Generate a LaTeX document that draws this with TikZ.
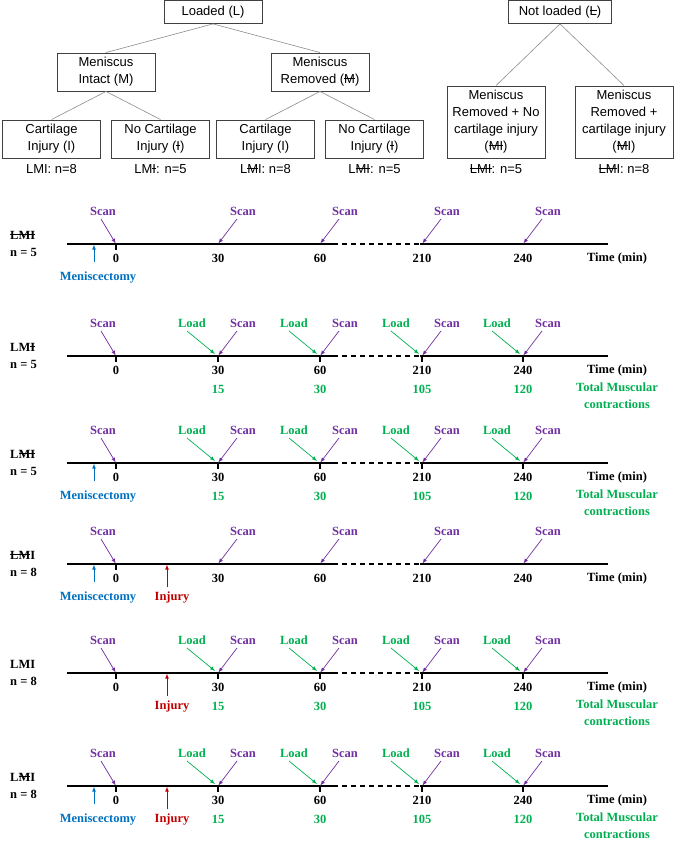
\documentclass[tikz,border=0pt]{standalone}
\usepackage{fontspec}
\setmainfont{Liberation Sans}
\newfontfamily\tnr{Liberation Serif}
\usetikzlibrary{shapes,arrows,positioning}

\definecolor{scanpurple}{RGB}{112,48,160}
\definecolor{loadgreen}{RGB}{0,176,80}
\definecolor{menblue}{RGB}{0,112,192}
\definecolor{injred}{RGB}{192,0,0}

\newcommand{\strk}[1]{{\setbox0=\hbox{#1}\rlap{\rule[0.34em]{\wd0}{0.075em}}\box0}}
\newcommand{\tlfont}{\tnr\bfseries\fontsize{12.5}{16.5}\selectfont}

\tikzset{
  box/.style={draw=black!75, line width=0.8pt, minimum width=98pt, minimum height=23pt,
    inner xsep=2pt, inner ysep=4.5pt, align=center, font=\fontsize{13}{17}\selectfont},
  cnt/.style={inner sep=2pt, font=\fontsize{13}{17}\selectfont},
  tl/.style={inner sep=0pt, text height=9pt, text depth=3pt, font=\tlfont},
  tnum/.style={tl},
  gnum/.style={tl, text=loadgreen},
  scanlbl/.style={tl, text=scanpurple},
  loadlbl/.style={tl, text=loadgreen},
  menlbl/.style={tl, text=menblue},
  injlbl/.style={tl, text=injred},
  total/.style={inner sep=0pt, align=center, font=\tlfont, text=loadgreen},
  grp/.style={inner sep=0pt, anchor=west, align=left, font=\tnr\bfseries\fontsize{12.5}{17}\selectfont},
  tline/.style={line width=1.2pt, black},
  tmark/.style={line width=1.6pt, black},
  scanarr/.style={draw=scanpurple, line width=0.7pt, -latex, shorten >=0.6pt},
  loadarr/.style={draw=loadgreen, line width=0.7pt, -latex},
  menarr/.style={draw=menblue, line width=0.7pt, -latex, shorten >=0.6pt},
  injarr/.style={draw=injred, line width=0.7pt, -latex, shorten >=0.6pt}
}

\begin{document}
\begin{tikzpicture}[x=1pt, y=-1pt,
      level 1/.style={sibling distance=214pt, level distance=60pt},
      level 2/.style={sibling distance=109pt, level distance=67pt},
      edge from parent/.style={draw=black!45, line width=0.6pt},
      edge from parent path={(\tikzparentnode.south) -- (\tikzchildnode.north)}
    ]
    \useasboundingbox (0,0) rectangle (675,845);

    % groups
    \node[box] (ld) at (213,12) {Loaded (L)}
        child {
          node[box] (mi) {Meniscus\\Intact (M)}
          child {
            node[box] (mici) {Cartilage\\Injury (I)}
          }
          child {
            node[box] (minc) {No Cartilage\\Injury (\strk{I})}
          }
        }
        child {
          node[box] (mr) {Meniscus\\Removed (\strk{M})}
          child {
            node[box] (mrci) {Cartilage\\Injury (I)}
          }
          child {
            node[box] (mrnc) {No Cartilage\\Injury (\strk{I})}
          }
        }
      ;
    \begin{scope}[level 1/.style={sibling distance=128pt, level distance=110pt}]
    \node[box, minimum width=103pt] (nl) at (560,12) {Not loaded (\strk{L})}
        child {
          node[box] (nlnc) {Meniscus\\Removed + No\\cartilage injury\\(\strk{MI})}
        }
        child {
          node[box] (nlci) {Meniscus\\Removed +\\cartilage injury\\(\strk{M}I)}
        }
      ;
    \end{scope}
    \node[cnt, below=4pt of mici] (mici-n) {LMI: n=8};
    \node[cnt, below=4pt of minc] (minc-n) {LM\strk{I}: n=5};
    \node[cnt, below=4pt of mrci] (mrci-n) {L\strk{M}I: n=8};
    \node[cnt, below=4pt of mrnc] (mrnc-n) {L\strk{MI}: n=5};
    \node[cnt, below=4pt of nlnc] (nlnc-n) {\strk{LMI}: n=5};
    \node[cnt, below=4pt of nlci] (nlci-n) {\strk{LM}I: n=8};

    % row 1: not loaded, meniscus removed, no injury
    \foreach \tm/\x in {0/116,30/218,60/320,210/422,240/523}
      \coordinate (r1t\tm) at (\x,244);
    \node[grp] (r1g) at (10,244) {\strk{LMI}\\n = 5};
    \draw[tline] ([xshift=-49pt]r1t0) -- ([xshift=13pt]r1t60);
    \draw[tline, dash pattern=on 5pt off 4pt] ([xshift=13pt]r1t60) -- ([xshift=-2pt]r1t210);
    \draw[tline] ([xshift=-2pt]r1t210) -- ([xshift=85pt]r1t240);
    \draw[tmark] ([yshift=1.5pt]r1t0) -- ([yshift=-6pt]r1t0);
    \foreach \tm in {0,30,60,210,240}
      \node[tnum, below=9pt of r1t\tm] (r1n\tm) {\tm};
    \node[tnum, below=8pt of r1t240, xshift=94pt] (r1time) {Time (min)};
    \node[scanlbl, above=25pt of r1t0, xshift=-13pt] (r1s0) {Scan};
    \draw[scanarr] ([xshift=-2pt]r1s0.south) -- (r1t0);
    \foreach \tm in {30,60,210,240} {
      \node[scanlbl, above=25pt of r1t\tm, xshift=25pt] (r1s\tm) {Scan};
      \draw[scanarr] ([xshift=-6pt]r1s\tm.south) -- (r1t\tm);
    }
    \node[menlbl, below=27pt of r1t0, xshift=-18pt] (r1m) {Meniscectomy};
    \coordinate (r1ma) at ([xshift=-22pt]r1t0);
    \coordinate (r1mb) at ([xshift=-22pt, yshift=-18pt]r1t0);
    \draw[menarr] (r1mb) -- (r1ma);

    % row 2: loaded, meniscus intact, no injury
    \foreach \tm/\x in {0/116,30/218,60/320,210/422,240/523}
      \coordinate (r2t\tm) at (\x,356);
    \node[grp] (r2g) at (10,356) {LM\strk{I}\\n = 5};
    \draw[tline] ([xshift=-49pt]r2t0) -- ([xshift=13pt]r2t60);
    \draw[tline, dash pattern=on 5pt off 4pt] ([xshift=13pt]r2t60) -- ([xshift=-2pt]r2t210);
    \draw[tline] ([xshift=-2pt]r2t210) -- ([xshift=85pt]r2t240);
    \foreach \tm in {0,30,60,210,240} {
      \draw[tmark] ([yshift=1.5pt]r2t\tm) -- ([yshift=-6pt]r2t\tm);
      \node[tnum, below=9pt of r2t\tm] (r2n\tm) {\tm};
    }
    \node[tnum, below=8pt of r2t240, xshift=94pt] (r2time) {Time (min)};
    \node[scanlbl, above=25pt of r2t0, xshift=-13pt] (r2s0) {Scan};
    \draw[scanarr] ([xshift=-2pt]r2s0.south) -- (r2t0);
    \foreach \tm/\c in {30/15,60/30,210/105,240/120} {
      \node[scanlbl, above=25pt of r2t\tm, xshift=25pt] (r2s\tm) {Scan};
      \draw[scanarr] ([xshift=-6pt]r2s\tm.south) -- (r2t\tm);
      \node[loadlbl, above=25pt of r2t\tm, xshift=-26pt] (r2l\tm) {Load};
      \draw[loadarr] ([xshift=-5pt]r2l\tm.south) -- ([xshift=-3pt, yshift=2pt]r2t\tm);
      \node[gnum, below=28pt of r2t\tm] (r2c\tm) {\c};
    }
    \node[total, below=27pt of r2t240, xshift=94pt] (r2tot) {Total Muscular\\contractions};

    % row 3: loaded, meniscus removed, no injury
    \foreach \tm/\x in {0/116,30/218,60/320,210/422,240/523}
      \coordinate (r3t\tm) at (\x,463);
    \node[grp] (r3g) at (10,463) {L\strk{MI}\\n = 5};
    \draw[tline] ([xshift=-49pt]r3t0) -- ([xshift=13pt]r3t60);
    \draw[tline, dash pattern=on 5pt off 4pt] ([xshift=13pt]r3t60) -- ([xshift=-2pt]r3t210);
    \draw[tline] ([xshift=-2pt]r3t210) -- ([xshift=85pt]r3t240);
    \foreach \tm in {0,30,60,210,240} {
      \draw[tmark] ([yshift=1.5pt]r3t\tm) -- ([yshift=-6pt]r3t\tm);
      \node[tnum, below=9pt of r3t\tm] (r3n\tm) {\tm};
    }
    \node[tnum, below=8pt of r3t240, xshift=94pt] (r3time) {Time (min)};
    \node[scanlbl, above=25pt of r3t0, xshift=-13pt] (r3s0) {Scan};
    \draw[scanarr] ([xshift=-2pt]r3s0.south) -- (r3t0);
    \foreach \tm/\c in {30/15,60/30,210/105,240/120} {
      \node[scanlbl, above=25pt of r3t\tm, xshift=25pt] (r3s\tm) {Scan};
      \draw[scanarr] ([xshift=-6pt]r3s\tm.south) -- (r3t\tm);
      \node[loadlbl, above=25pt of r3t\tm, xshift=-26pt] (r3l\tm) {Load};
      \draw[loadarr] ([xshift=-5pt]r3l\tm.south) -- ([xshift=-3pt, yshift=2pt]r3t\tm);
      \node[gnum, below=28pt of r3t\tm] (r3c\tm) {\c};
    }
    \node[total, below=27pt of r3t240, xshift=94pt] (r3tot) {Total Muscular\\contractions};
    \node[menlbl, below=27pt of r3t0, xshift=-18pt] (r3m) {Meniscectomy};
    \coordinate (r3ma) at ([xshift=-22pt]r3t0);
    \coordinate (r3mb) at ([xshift=-22pt, yshift=-18pt]r3t0);
    \draw[menarr] (r3mb) -- (r3ma);

    % row 4: not loaded, meniscus removed, injury
    \foreach \tm/\x in {0/116,30/218,60/320,210/422,240/523}
      \coordinate (r4t\tm) at (\x,564);
    \node[grp] (r4g) at (10,564) {\strk{LM}I\\n = 8};
    \draw[tline] ([xshift=-49pt]r4t0) -- ([xshift=13pt]r4t60);
    \draw[tline, dash pattern=on 5pt off 4pt] ([xshift=13pt]r4t60) -- ([xshift=-2pt]r4t210);
    \draw[tline] ([xshift=-2pt]r4t210) -- ([xshift=85pt]r4t240);
    \draw[tmark] ([yshift=1.5pt]r4t0) -- ([yshift=-6pt]r4t0);
    \foreach \tm in {0,30,60,210,240}
      \node[tnum, below=9pt of r4t\tm] (r4n\tm) {\tm};
    \node[tnum, below=8pt of r4t240, xshift=94pt] (r4time) {Time (min)};
    \node[scanlbl, above=25pt of r4t0, xshift=-13pt] (r4s0) {Scan};
    \draw[scanarr] ([xshift=-2pt]r4s0.south) -- (r4t0);
    \foreach \tm in {30,60,210,240} {
      \node[scanlbl, above=25pt of r4t\tm, xshift=25pt] (r4s\tm) {Scan};
      \draw[scanarr] ([xshift=-6pt]r4s\tm.south) -- (r4t\tm);
    }
    \node[menlbl, below=27pt of r4t0, xshift=-18pt] (r4m) {Meniscectomy};
    \coordinate (r4ma) at ([xshift=-22pt]r4t0);
    \coordinate (r4mb) at ([xshift=-22pt, yshift=-18pt]r4t0);
    \draw[menarr] (r4mb) -- (r4ma);
    \node[injlbl, below=27pt of r4t0, xshift=56pt] (r4i) {Injury};
    \coordinate (r4ia) at ([xshift=51pt]r4t0);
    \coordinate (r4ib) at ([xshift=51pt, yshift=-23pt]r4t0);
    \draw[injarr] (r4ib) -- (r4ia);

    % row 5: loaded, meniscus intact, injury
    \foreach \tm/\x in {0/116,30/218,60/320,210/422,240/523}
      \coordinate (r5t\tm) at (\x,673);
    \node[grp] (r5g) at (10,673) {LMI\\n = 8};
    \draw[tline] ([xshift=-49pt]r5t0) -- ([xshift=13pt]r5t60);
    \draw[tline, dash pattern=on 5pt off 4pt] ([xshift=13pt]r5t60) -- ([xshift=-2pt]r5t210);
    \draw[tline] ([xshift=-2pt]r5t210) -- ([xshift=85pt]r5t240);
    \foreach \tm in {0,30,60,210,240} {
      \draw[tmark] ([yshift=1.5pt]r5t\tm) -- ([yshift=-6pt]r5t\tm);
      \node[tnum, below=9pt of r5t\tm] (r5n\tm) {\tm};
    }
    \node[tnum, below=8pt of r5t240, xshift=94pt] (r5time) {Time (min)};
    \node[scanlbl, above=25pt of r5t0, xshift=-13pt] (r5s0) {Scan};
    \draw[scanarr] ([xshift=-2pt]r5s0.south) -- (r5t0);
    \foreach \tm/\c in {30/15,60/30,210/105,240/120} {
      \node[scanlbl, above=25pt of r5t\tm, xshift=25pt] (r5s\tm) {Scan};
      \draw[scanarr] ([xshift=-6pt]r5s\tm.south) -- (r5t\tm);
      \node[loadlbl, above=25pt of r5t\tm, xshift=-26pt] (r5l\tm) {Load};
      \draw[loadarr] ([xshift=-5pt]r5l\tm.south) -- ([xshift=-3pt, yshift=2pt]r5t\tm);
      \node[gnum, below=28pt of r5t\tm] (r5c\tm) {\c};
    }
    \node[total, below=27pt of r5t240, xshift=94pt] (r5tot) {Total Muscular\\contractions};
    \node[injlbl, below=27pt of r5t0, xshift=56pt] (r5i) {Injury};
    \coordinate (r5ia) at ([xshift=51pt]r5t0);
    \coordinate (r5ib) at ([xshift=51pt, yshift=-23pt]r5t0);
    \draw[injarr] (r5ib) -- (r5ia);

    % row 6: loaded, meniscus removed, injury
    \foreach \tm/\x in {0/116,30/218,60/320,210/422,240/523}
      \coordinate (r6t\tm) at (\x,786);
    \node[grp] (r6g) at (10,786) {L\strk{M}I\\n = 8};
    \draw[tline] ([xshift=-49pt]r6t0) -- ([xshift=13pt]r6t60);
    \draw[tline, dash pattern=on 5pt off 4pt] ([xshift=13pt]r6t60) -- ([xshift=-2pt]r6t210);
    \draw[tline] ([xshift=-2pt]r6t210) -- ([xshift=85pt]r6t240);
    \foreach \tm in {0,30,60,210,240} {
      \draw[tmark] ([yshift=1.5pt]r6t\tm) -- ([yshift=-6pt]r6t\tm);
      \node[tnum, below=9pt of r6t\tm] (r6n\tm) {\tm};
    }
    \node[tnum, below=8pt of r6t240, xshift=94pt] (r6time) {Time (min)};
    \node[scanlbl, above=25pt of r6t0, xshift=-13pt] (r6s0) {Scan};
    \draw[scanarr] ([xshift=-2pt]r6s0.south) -- (r6t0);
    \foreach \tm/\c in {30/15,60/30,210/105,240/120} {
      \node[scanlbl, above=25pt of r6t\tm, xshift=25pt] (r6s\tm) {Scan};
      \draw[scanarr] ([xshift=-6pt]r6s\tm.south) -- (r6t\tm);
      \node[loadlbl, above=25pt of r6t\tm, xshift=-26pt] (r6l\tm) {Load};
      \draw[loadarr] ([xshift=-5pt]r6l\tm.south) -- ([xshift=-3pt, yshift=2pt]r6t\tm);
      \node[gnum, below=28pt of r6t\tm] (r6c\tm) {\c};
    }
    \node[total, below=27pt of r6t240, xshift=94pt] (r6tot) {Total Muscular\\contractions};
    \node[menlbl, below=27pt of r6t0, xshift=-18pt] (r6m) {Meniscectomy};
    \coordinate (r6ma) at ([xshift=-22pt]r6t0);
    \coordinate (r6mb) at ([xshift=-22pt, yshift=-18pt]r6t0);
    \draw[menarr] (r6mb) -- (r6ma);
    \node[injlbl, below=27pt of r6t0, xshift=56pt] (r6i) {Injury};
    \coordinate (r6ia) at ([xshift=51pt]r6t0);
    \coordinate (r6ib) at ([xshift=51pt, yshift=-23pt]r6t0);
    \draw[injarr] (r6ib) -- (r6ia);
  \end{tikzpicture}
\end{document}
